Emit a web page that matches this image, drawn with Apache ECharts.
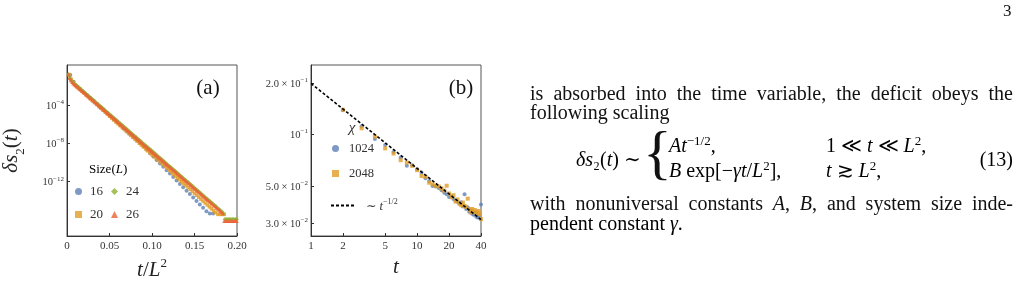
<!DOCTYPE html>
<html><head><meta charset="utf-8">
<script src="https://cdn.jsdelivr.net/npm/echarts@6/dist/echarts.min.js"></script>
<style>html,body{margin:0;padding:0;background:#fff}#c{width:1027px;height:289px}</style>
</head><body><div id="c"></div><script>
// ---------------- data: panel (a), log10 of delta s2 at t = 1,2,3,... for each size L
const sizesL = [16, 20, 24, 26];
const log10Ds2_L16 = [-0.90,-1.60,-2.09,-2.39,-2.69,-2.99,-3.29,-3.59,-3.91,-4.22,-4.54,-4.85,-5.17,-5.48,-5.80,-6.11,-6.43,-6.74,-7.06,-7.37,-7.69,-8.01,-8.32,-8.68,-9.03,-9.39,-9.74,-10.10,-10.45,-10.81,-11.16,-11.52,-11.87,-12.23,-12.58,-12.94,-13.29,-13.65,-14.00,-14.36,-14.71,-15.07,-15.30,-15.30];
const log10Ds2_L20 = [-0.85,-1.35,-1.68,-1.95,-2.16,-2.36,-2.56,-2.76,-2.97,-3.17,-3.37,-3.57,-3.77,-3.97,-4.17,-4.37,-4.57,-4.77,-4.97,-5.18,-5.38,-5.58,-5.78,-5.98,-6.18,-6.38,-6.58,-6.78,-6.98,-7.19,-7.39,-7.59,-7.79,-7.99,-8.19,-8.39,-8.59,-8.79,-8.99,-9.20,-9.40,-9.60,-9.80,-10.00,-10.20,-10.40,-10.60,-10.80,-11.00,-11.21,-11.41,-11.61,-11.81,-12.01,-12.21,-12.41,-12.61,-12.81,-13.01,-13.22,-13.42,-13.62,-13.82,-14.02,-14.22,-14.42,-14.62,-14.82,-15.02,-15.22,-15.40,-15.40,-15.40,-15.40];
const log10Ds2_L24 = [-0.85,-1.22,-1.48,-1.68,-1.83,-1.94,-2.08,-2.21,-2.34,-2.48,-2.61,-2.74,-2.88,-3.01,-3.14,-3.28,-3.41,-3.54,-3.68,-3.81,-3.94,-4.07,-4.21,-4.34,-4.47,-4.61,-4.74,-4.87,-5.01,-5.14,-5.27,-5.41,-5.54,-5.67,-5.81,-5.94,-6.07,-6.21,-6.34,-6.47,-6.60,-6.74,-6.87,-7.00,-7.14,-7.27,-7.40,-7.54,-7.67,-7.80,-7.94,-8.07,-8.20,-8.34,-8.47,-8.60,-8.74,-8.87,-9.00,-9.13,-9.27,-9.40,-9.53,-9.67,-9.80,-9.93,-10.07,-10.20,-10.33,-10.47,-10.60,-10.73,-10.87,-11.00,-11.13,-11.27,-11.40,-11.53,-11.66,-11.80,-11.93,-12.06,-12.20,-12.33,-12.46,-12.60,-12.73,-12.86,-13.00,-13.13,-13.26,-13.40,-13.53,-13.66,-13.80,-13.93,-14.06,-14.19,-14.33,-14.46,-14.59,-14.73,-14.86,-14.99,-15.13,-15.30,-15.90,-15.90,-15.90,-15.90,-15.90,-15.90,-15.90,-15.90,-15.90];
const log10Ds2_L26 = [-0.85,-1.20,-1.45,-1.62,-1.78,-1.90,-1.99,-2.10,-2.22,-2.33,-2.44,-2.56,-2.67,-2.78,-2.90,-3.01,-3.12,-3.24,-3.35,-3.46,-3.58,-3.69,-3.80,-3.92,-4.03,-4.15,-4.26,-4.37,-4.49,-4.60,-4.71,-4.83,-4.94,-5.05,-5.17,-5.28,-5.39,-5.51,-5.62,-5.73,-5.85,-5.96,-6.07,-6.19,-6.30,-6.41,-6.53,-6.64,-6.75,-6.87,-6.98,-7.10,-7.21,-7.32,-7.44,-7.55,-7.66,-7.78,-7.89,-8.00,-8.12,-8.23,-8.34,-8.46,-8.57,-8.68,-8.80,-8.91,-9.02,-9.14,-9.25,-9.36,-9.48,-9.59,-9.70,-9.82,-9.93,-10.05,-10.16,-10.27,-10.39,-10.50,-10.61,-10.73,-10.84,-10.95,-11.07,-11.18,-11.29,-11.41,-11.52,-11.63,-11.75,-11.86,-11.97,-12.09,-12.20,-12.31,-12.43,-12.54,-12.65,-12.77,-12.88,-13.00,-13.11,-13.22,-13.34,-13.45,-13.56,-13.68,-13.79,-13.90,-14.02,-14.13,-14.24,-14.36,-14.47,-14.58,-14.70,-14.81,-14.92,-15.04,-15.15,-15.30,-16.10,-16.10,-16.10,-16.10,-16.10,-16.10,-16.10,-16.10,-16.10,-16.10,-16.10];
const xTicksA = [0, 0.05, 0.10, 0.15, 0.20];
const yTicksA = [1e-4, 1e-8, 1e-12];

// ---------------- data: panel (b)
const chiValues = ['1024', '2048'];
const timesB = [2,3,4,5,6,7,8,9,10,11,12,13,14,15,16,17,18,19,20,21,22,23,24,25,26,27,28,29,30,31,32,33,34,35,36,37,38,39,40];
const ds2_chi1024 = [0.139,0.112,0.0943,0.0869,0.079,0.0733,0.0655,0.066,0.0625,0.0598,0.0553,0.0533,0.0499,0.0495,0.0485,0.0470,0.0455,0.0446,0.0430,0.0432,0.0418,0.0410,0.0402,0.0395,0.0400,0.0378,0.0445,0.0365,0.0372,0.0352,0.0360,0.0342,0.0338,0.0345,0.0330,0.0325,0.0335,0.0322,0.0388];
const ds2_chi2048 = [0.140,0.109,0.0973,0.0830,0.0774,0.0707,0.0685,0.0655,0.0618,0.0571,0.0565,0.0521,0.0510,0.0499,0.0495,0.0482,0.0468,0.0500,0.0450,0.0428,0.0440,0.0404,0.0415,0.0392,0.0384,0.0398,0.0380,0.0375,0.0420,0.0362,0.0348,0.0365,0.0352,0.0360,0.0350,0.0345,0.0355,0.0340,0.0318];
const powerLawT = [1, 40];
const powerLawY = [0.2, 0.0316];
const xTicksB = [1, 2, 5, 10, 20, 40];
const yTicksB = [0.2, 0.1, 0.05, 0.03];

// ---------------- styling
const SERIF = '"Liberation Serif","DejaVu Serif",serif';
const COL = {blue:'#5E81B5', orange:'#E19C24', green:'#8FB032', red:'#EB6235'};
const AX = '#333';
const supRich = {
  b:{fontFamily:SERIF, fontSize:10.5, color:AX, verticalAlign:'bottom', lineHeight:13},
  e:{fontFamily:SERIF, fontSize:7, color:AX, verticalAlign:'top', lineHeight:13}
};

function seriesA(name, L, logs, symbol, color, size){
  return {type:'scatter', name, xAxisIndex:0, yAxisIndex:0, symbol, symbolSize:size,
    itemStyle:{color}, silent:true,
    data: logs.map((e,i)=>[(i+1)/(L*L), Math.pow(10,e)])};
}
function seriesB(name, vals, symbol, color, size){
  return {type:'scatter', name, xAxisIndex:1, yAxisIndex:1, symbol, symbolSize:size,
    itemStyle:{color}, silent:true, data: timesB.map((t,i)=>[t, vals[i]])};
}

// ---------------- text (right column)
const ctx = document.createElement('canvas').getContext('2d');
const FS = 20;
function mw(t, it){ ctx.font = (it?'italic ':'') + FS + 'px ' + SERIF; return ctx.measureText(t).width; }
function tEl(t, it, x, y, size, extra){
  return Object.assign({type:'text', x, y, silent:true, style:{text:t, font:(it?'italic ':'')+(size||FS)+'px '+SERIF, fill:'#111', textAlign:'left', align:'left', textVerticalAlign:'middle', verticalAlign:'middle'}}, extra||{});
}
function justified(words, x0, x1, y){
  const ws = words.map(s=>s.reduce((a,[t,it])=>a+mw(t,it),0));
  const tot = ws.reduce((a,b)=>a+b,0);
  const gap = (x1-x0-tot)/(words.length-1);
  const out=[]; let x=x0;
  words.forEach((s,i)=>{ let xx=x; s.forEach(([t,it])=>{ out.push(tEl(t,it,xx,y)); xx+=mw(t,it); }); x+=ws[i]+gap; });
  return out;
}
const R = s => s.split(' ').map(w=>[[w,false]]);
const LH = 22;
const bodyRich = {
  n:{fontFamily:SERIF, fontSize:FS, color:'#111', lineHeight:LH, verticalAlign:'bottom'},
  i:{fontFamily:SERIF, fontSize:FS, fontStyle:'italic', color:'#111', lineHeight:LH, verticalAlign:'bottom'},
  s:{fontFamily:SERIF, fontSize:13, color:'#111', lineHeight:LH, verticalAlign:'top'}
};
function richEl(text, x, y, align){
  return {type:'text', x, y, silent:true, style:{text, rich:bodyRich, textAlign:align||'left', align:align||'left', textVerticalAlign:'middle', verticalAlign:'middle'}};
}
const textGraphics = [].concat(
  justified(R('is absorbed into the time variable, the deficit obeys the'), 530, 1013, 95),
  [tEl('following scaling', false, 530, 114)],
  [richEl('{i|δs}{n|₂(}{i|t}{n|) ∼}', 576, 160)],
  [tEl('{', false, 643, 156, 60)],
  [richEl('{i|At}{s|−1/2}{n|,}', 669, 146)],
  [richEl('{n|1 ≪ }{i|t}{n| ≪ }{i|L}{s|2}{n|,}', 826, 146)],
  [richEl('{i|B}{n| exp[−}{i|γt}{n|/}{i|L}{s|2}{n|],}', 669, 171)],
  [richEl('{i|t}{n| ≳ }{i|L}{s|2}{n|,}', 826, 171)],
  [richEl('{n|(13)}', 1013, 160, 'right')],
  justified([[['with',false]],[['nonuniversal',false]],[['constants',false]],[['A',true],[',',false]],[['B',true],[',',false]],[['and',false]],[['system',false]],[['size',false]],[['inde-',false]]], 530, 1013, 205),
  [richEl('{n|pendent constant }{i|γ}{n|.}', 530, 224)],
  [tEl('3', false, 1003, 12, 17)]
);

const chartGraphics = [
  {type:'text', x:89, y:170, silent:true, style:{text:'{n|Size(}{i|L}{n|)}', rich:{n:{fontFamily:SERIF,fontSize:13,color:AX},i:{fontFamily:SERIF,fontSize:13,fontStyle:'italic',color:AX}}, textVerticalAlign:'middle', verticalAlign:'middle'}},
  {type:'text', x:352, y:128, silent:true, style:{text:'χ', font:'italic 15px '+SERIF, fill:AX, textAlign:'center', align:'center', textVerticalAlign:'middle', verticalAlign:'middle'}},
  {type:'text', x:208, y:88, silent:true, style:{text:'(a)', font:'21px '+SERIF, fill:'#111', textAlign:'center', align:'center', textVerticalAlign:'middle', verticalAlign:'middle'}},
  {type:'text', x:461, y:88, silent:true, style:{text:'(b)', font:'21px '+SERIF, fill:'#111', textAlign:'center', align:'center', textVerticalAlign:'middle', verticalAlign:'middle'}}
];

const legendText = {fontFamily:SERIF, fontSize:13, color:AX, padding:[0,0,0,3]};
const legendTextB = {fontFamily:SERIF, fontSize:12.5, color:AX, padding:[0,0,0,5]};
const legendBase = {orient:'horizontal', padding:0, selectedMode:false, itemWidth:7, itemHeight:7};

const option = {
  animation:false,
  backgroundColor:'#fff',
  grid:[
    {left:66, top:65, width:171, height:171, show:true, borderColor:'#555', borderWidth:1},
    {left:311, top:65, width:170, height:171, show:true, borderColor:'#555', borderWidth:1}
  ],
  xAxis:[
    {type:'value', gridIndex:0, min:0, max:0.2,
     axisLine:{show:true, onZero:false, lineStyle:{color:AX}},
     axisTick:{show:true, inside:true, length:3, customValues:xTicksA, lineStyle:{color:AX}},
     axisLabel:{customValues:xTicksA, formatter:v=>v===0?'0':v.toFixed(2), fontFamily:SERIF, fontSize:11, color:AX, margin:5},
     splitLine:{show:false},
     name:'{i|t}{n|/}{i|L}{s|2}', nameLocation:'middle', nameGap:18,
     nameTextStyle:{rich:{i:{fontFamily:SERIF,fontSize:21,fontStyle:'italic',color:'#222',lineHeight:24,verticalAlign:'bottom'},n:{fontFamily:SERIF,fontSize:21,color:'#222',lineHeight:24,verticalAlign:'bottom'},s:{fontFamily:SERIF,fontSize:13,color:'#222',lineHeight:24,verticalAlign:'top'}}}},
    {type:'log', gridIndex:1, min:1, max:40, logBase:10,
     axisLine:{show:true, onZero:false, lineStyle:{color:AX}},
     axisTick:{show:true, inside:true, length:3, customValues:xTicksB, lineStyle:{color:AX}},
     axisLabel:{customValues:xTicksB, formatter:v=>String(Math.round(v)), fontFamily:SERIF, fontSize:11, color:AX, margin:5},
     splitLine:{show:false},
     name:'{i|t}', nameLocation:'middle', nameGap:18,
     nameTextStyle:{rich:{i:{fontFamily:SERIF,fontSize:21,fontStyle:'italic',color:'#222',lineHeight:24}}}}
  ],
  yAxis:[
    {type:'log', gridIndex:0, min:Math.pow(10,-17.65), max:Math.pow(10,0.14), logBase:10,
     axisLine:{show:true, onZero:false, lineStyle:{color:AX}},
     axisTick:{show:true, inside:true, length:3, customValues:yTicksA, lineStyle:{color:AX}},
     axisLabel:{customValues:yTicksA, formatter:v=>'{b|10}{e|−'+Math.round(-Math.log10(v))+'}', rich:supRich, margin:3},
     splitLine:{show:false},
     name:'{i|δs}{s|2}{n|(}{i|t}{n|)}', nameLocation:'middle', nameGap:40, nameRotate:90,
     nameTextStyle:{rich:{i:{fontFamily:SERIF,fontSize:21,fontStyle:'italic',color:'#222',lineHeight:26,verticalAlign:'top'},n:{fontFamily:SERIF,fontSize:21,color:'#222',lineHeight:26,verticalAlign:'top'},s:{fontFamily:SERIF,fontSize:13,color:'#222',lineHeight:26,verticalAlign:'bottom'}}}},
    {type:'log', gridIndex:1, min:0.0253, max:0.257, logBase:10,
     axisLine:{show:true, onZero:false, lineStyle:{color:AX}},
     axisTick:{show:true, inside:true, length:3, customValues:yTicksB, lineStyle:{color:AX}},
     axisLabel:{customValues:yTicksB, rich:supRich, margin:3, formatter:v=>{
        if (Math.abs(v-0.1)<1e-9) return '{b|10}{e|−1}';
        const e = Math.floor(Math.log10(v)+1e-9); const m = v/Math.pow(10,e);
        return '{b|'+m.toFixed(1)+' × 10}{e|−'+(-e)+'}'; }},
     splitLine:{show:false}}
  ],
  legend:[
    Object.assign({data:['16','24'], left:75, top:185, itemGap:8, textStyle:legendText}, legendBase),
    Object.assign({data:['20','26'], left:75, top:208, itemGap:8, textStyle:legendText}, legendBase),
    Object.assign({data:['1024'], left:332, top:142, textStyle:legendTextB}, legendBase),
    Object.assign({data:['2048'], left:332, top:167, textStyle:legendTextB}, legendBase),
    Object.assign({}, legendBase, {data:['powerlaw'], left:330, top:198, itemWidth:25, itemHeight:8,
      itemStyle:{opacity:0},
      formatter:()=>'{n|∼ }{i|t}{s|−1/2}',
      textStyle:{padding:[0,0,0,5], rich:{n:{fontFamily:SERIF,fontSize:12.5,color:AX,lineHeight:15,verticalAlign:'bottom'},i:{fontFamily:SERIF,fontSize:12.5,fontStyle:'italic',color:AX,lineHeight:15,verticalAlign:'bottom'},s:{fontFamily:SERIF,fontSize:8,color:AX,lineHeight:15,verticalAlign:'top'}}}})
  ],
  series:[
    seriesA(String(sizesL[0]), sizesL[0], log10Ds2_L16, 'circle', COL.blue, 4),
    seriesA(String(sizesL[1]), sizesL[1], log10Ds2_L20, 'rect', COL.orange, 3.5),
    seriesA(String(sizesL[2]), sizesL[2], log10Ds2_L24, 'diamond', COL.green, 4.5),
    seriesA(String(sizesL[3]), sizesL[3], log10Ds2_L26, 'triangle', COL.red, 4),
    seriesB(chiValues[0], ds2_chi1024, 'circle', COL.blue, 4),
    seriesB(chiValues[1], ds2_chi2048, 'rect', COL.orange, 4),
    {type:'line', name:'powerlaw', xAxisIndex:1, yAxisIndex:1, symbol:'none', silent:true,
     lineStyle:{color:'#000', width:1.6, type:[3,2]}, itemStyle:{color:'#000'},
     data: powerLawT.map((t,i)=>[t, powerLawY[i]])}
  ],
  graphic: chartGraphics.concat(textGraphics)
};
const chart = echarts.init(document.getElementById('c'), null, {renderer:'canvas'});
chart.setOption(option);
</script></body></html>
